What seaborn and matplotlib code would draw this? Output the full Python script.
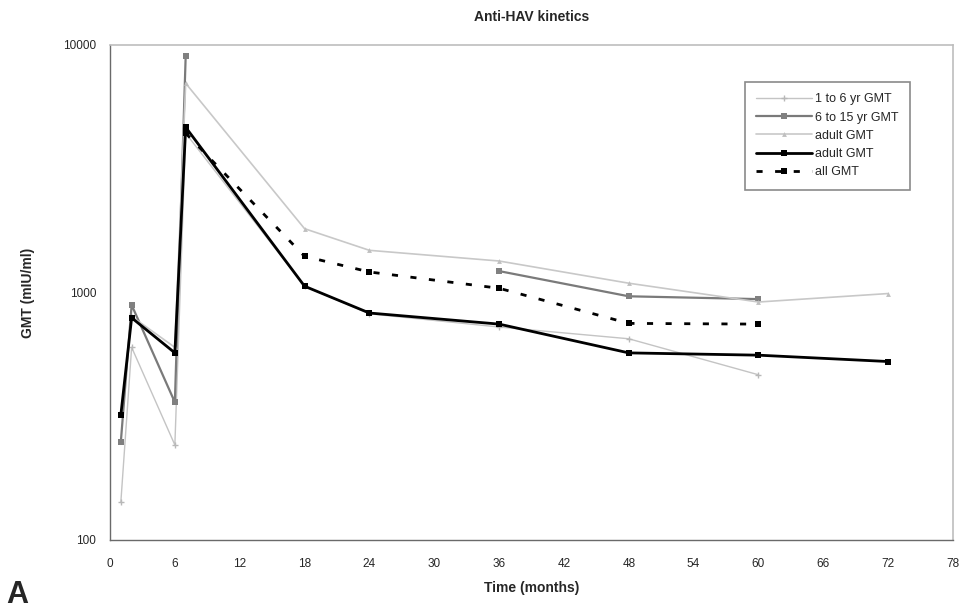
import numpy as np
import pandas as pd
import matplotlib
matplotlib.use("Agg")
import matplotlib.pyplot as plt
import seaborn as sns
from matplotlib.lines import Line2D

# ---- data ----
months_1to6 = [1, 2, 6, 7, 18, 24, 36, 48, 60]
gmt_1to6 = [142, 600, 242, 4400, 1060, 820, 725, 650, 465]

months_6to15 = [1, 2, 6, 7, 18, 24, 36, 48, 60]
gmt_6to15 = [249, 890, 360, 9000, np.nan, np.nan, 1220, 965, 940]

months_adult_a = [2, 6, 7, 18, 24, 36, 48, 60, 72]
gmt_adult_a = [800, 600, 7000, 1810, 1480, 1340, 1090, 915, 990]

months_adult_b = [1, 2, 6, 7, 18, 24, 36, 48, 60, 72]
gmt_adult_b = [320, 790, 570, 4650, 1060, 826, 745, 570, 558, 526]

months_all = [7, 18, 24, 36, 48, 60]
gmt_all = [4400, 1400, 1210, 1040, 750, 745]

labels = ["1 to 6 yr GMT", "6 to 15 yr GMT", "adult GMT", "adult GMT", "all GMT"]
x_ticks = list(range(0, 79, 6))
y_ticks = [100, 1000, 10000]

sns.set_style("white")
plt.rcParams["font.family"] = ["Liberation Sans", "DejaVu Sans"]

fig = plt.figure(figsize=(9.66, 6.10), dpi=100)
ax = fig.add_axes([0.1139, 0.1148, 0.8726, 0.8115])

def seg_frame(xs, ys):
    df = pd.DataFrame({"x": xs, "y": ys})
    df["seg"] = df["y"].isna().cumsum()
    return df.dropna()

styles = [
    dict(color="#c4c4c4", linewidth=1.0, marker="+", markersize=4.5,
         markeredgewidth=1, markeredgecolor="#b8b8b8"),
    dict(color="#7a7a7a", linewidth=1.6, marker="s", markersize=4.2,
         markeredgewidth=0, markerfacecolor="#808080"),
    dict(color="#c8c8c8", linewidth=1.2, marker="^", markersize=3.5,
         markeredgewidth=0, markerfacecolor="#c0c0c0"),
    dict(color="black", linewidth=2.0, marker="s", markersize=4.5,
         markeredgewidth=0, markerfacecolor="black"),
    dict(color="black", linewidth=2.0, marker="s", markersize=4.0,
         markeredgewidth=0, markerfacecolor="black", linestyle=(0, (2.2, 4.5))),
]

series = [
    (months_1to6, gmt_1to6),
    (months_6to15, gmt_6to15),
    (months_adult_a, gmt_adult_a),
    (months_adult_b, gmt_adult_b),
    (months_all, gmt_all),
]

for (xs, ys), st in zip(series, styles):
    sns.lineplot(data=seg_frame(xs, ys), x="x", y="y", units="seg",
                 estimator=None, ax=ax, **st)

ax.set_yscale("log")
ax.set_xlim(0, 78)
ax.set_ylim(100, 10000)
ax.set_xticks(x_ticks)
ax.set_xticklabels([str(t) for t in x_ticks])
ax.set_yticks(y_ticks)
ax.set_yticklabels([str(t) for t in y_ticks])
ax.yaxis.set_minor_locator(matplotlib.ticker.NullLocator())
ax.tick_params(axis="both", which="major", direction="out", length=5, width=0.8,
               color="#555555", labelsize=8.5, pad=5)
ax.tick_params(axis="x", pad=8)

for side in ["top", "right"]:
    ax.spines[side].set_visible(True)
    ax.spines[side].set_color("#bdbdbd")
    ax.spines[side].set_linewidth(1.2)
for side in ["left", "bottom"]:
    ax.spines[side].set_color("#6a6a6a")
    ax.spines[side].set_linewidth(1.0)

ax.set_xlabel("Time (months)", fontsize=10, fontweight="bold", labelpad=8)
ax.set_ylabel("GMT (mIU/ml)", fontsize=10, fontweight="bold", labelpad=20)
ax.set_title("Anti-HAV kinetics", fontsize=10, fontweight="bold", pad=17)

handles = []
for st in styles:
    kw = dict(st)
    kw["lw"] = kw.pop("linewidth")
    kw["ms"] = kw.pop("markersize")
    handles.append(Line2D([], [], **kw))

leg = ax.legend(handles, labels, loc="upper right", bbox_to_anchor=(0.949, 0.925),
                fontsize=9, frameon=True, fancybox=False, framealpha=1,
                edgecolor="#8a8a8a", handlelength=4.5, handletextpad=0.25,
                borderpad=0.9, labelspacing=0.5, borderaxespad=0)
leg.get_frame().set_linewidth(1.2)

fig.text(0.006, 0.012, "A", fontsize=22, fontweight="bold")

fig.savefig("out.png", dpi=100)
